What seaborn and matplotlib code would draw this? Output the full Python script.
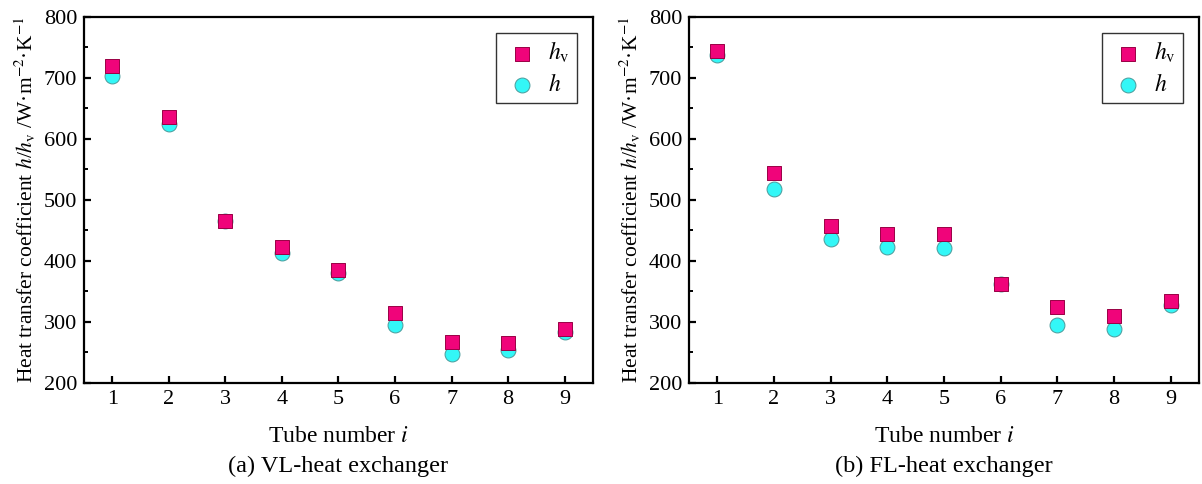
import numpy as np
import pandas as pd
import matplotlib
matplotlib.use("Agg")
import matplotlib.pyplot as plt
from matplotlib.ticker import MultipleLocator
import seaborn as sns

# Tube numbers and heat transfer coefficients (W·m^-2·K^-1)
tubes = [1, 2, 3, 4, 5, 6, 7, 8, 9]
vl_hv = [720, 636, 466, 423, 386, 315, 267, 265, 289]
vl_h = [703, 625, 465, 413, 381, 295, 248, 254, 284]
fl_hv = [745, 545, 458, 444, 444, 363, 324, 309, 334]
fl_h = [737, 518, 436, 423, 421, 362, 295, 289, 328]
panel_titles = ["(a) VL-heat exchanger", "(b) FL-heat exchanger"]

sns.set_theme(style="white")
plt.rcParams["font.family"] = ["Liberation Serif", "DejaVu Serif"]
plt.rcParams["mathtext.fontset"] = "stix"
plt.rcParams["axes.linewidth"] = 1.6
plt.rcParams["text.color"] = "black"
plt.rcParams["axes.labelcolor"] = "black"

pink = "#F0047A"
pink_edge = "#9A0045"
cyan = "#33F7F7"
cyan_edge = "#4A9A9A"

fig = plt.figure(figsize=(12.02, 4.84), dpi=100)
axes = [fig.add_axes([0.0699, 0.2087, 0.4234, 0.7562]),
        fig.add_axes([0.5732, 0.2087, 0.4243, 0.7562])]

data = [(vl_hv, vl_h), (fl_hv, fl_h)]
for ax, (hv, h), title in zip(axes, data, panel_titles):
    df = pd.DataFrame({"tube": tubes, "hv": hv, "h": h})
    sns.scatterplot(data=df, x="tube", y="h", ax=ax, marker="o", s=115,
                    color=cyan, edgecolor=cyan_edge, linewidth=0.7,
                    label=r"$h$", zorder=3)
    sns.scatterplot(data=df, x="tube", y="hv", ax=ax, marker="s", s=100,
                    color=pink, edgecolor=pink_edge, linewidth=0.7,
                    label=r"$h_{\rm v}$", zorder=4)
    ax.set_xlim(0.5, 9.5)
    ax.set_ylim(200, 800)
    ax.set_xticks(tubes)
    ax.yaxis.set_major_locator(MultipleLocator(100))
    ax.yaxis.set_minor_locator(MultipleLocator(50))
    ax.tick_params(axis="both", which="major", direction="in", length=5,
                   width=1.6, labelsize=16, pad=5, colors="black")
    ax.tick_params(axis="y", which="minor", direction="in", length=3,
                   width=1.4, left=True, colors="black")
    ax.tick_params(axis="x", bottom=True, top=False)
    ax.tick_params(axis="y", left=True, right=False)
    for sp in ax.spines.values():
        sp.set_color("black")
        sp.set_linewidth(1.6)
    ax.set_xlabel(r"Tube number $i$", fontsize=17, labelpad=12, color="black")
    ax.set_ylabel(r"Heat transfer coefficient $h$/$h_{\rm v}$ /W·m$^{-2}$·K$^{-1}$",
                  fontsize=15.5, labelpad=4, color="black")
    ax.text(0.5, -0.2, title, transform=ax.transAxes, ha="center",
            va="top", fontsize=17.5, color="black")
    handles, labels = ax.get_legend_handles_labels()
    leg = ax.legend(handles[::-1], labels[::-1], loc="upper right",
                    bbox_to_anchor=(0.968, 0.956), borderaxespad=0,
                    fontsize=17, frameon=True,
                    fancybox=False, edgecolor="#333333", framealpha=1,
                    handletextpad=0.3, borderpad=0.3, labelspacing=0.35,
                    handlelength=1.6, markerscale=1.0, labelcolor="black")
    leg.get_frame().set_linewidth(1.0)

fig.savefig("out.png", dpi=100)
